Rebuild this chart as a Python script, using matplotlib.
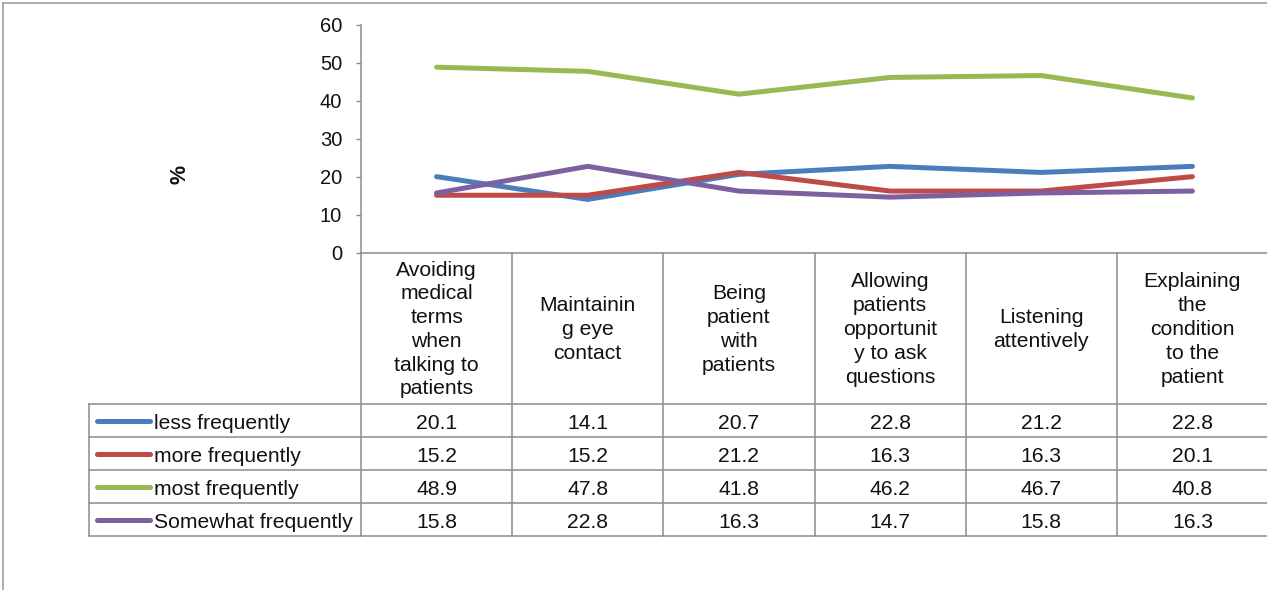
import matplotlib
matplotlib.use("Agg")
import matplotlib.pyplot as plt
from matplotlib.lines import Line2D

plt.rcParams["font.family"] = ["Liberation Sans", "DejaVu Sans"]

categories = ["Avoiding\nmedical\nterms\nwhen\ntalking to\npatients",
              "Maintainin\ng eye\ncontact",
              "Being\npatient\nwith\npatients",
              "Allowing\npatients\nopportunit\ny to ask\nquestions",
              "Listening\nattentively",
              "Explaining\nthe\ncondition\nto the\npatient"]
series = ["less frequently", "more frequently", "most frequently", "Somewhat frequently"]
less_freq = [20.1, 14.1, 20.7, 22.8, 21.2, 22.8]
more_freq = [15.2, 15.2, 21.2, 16.3, 16.3, 20.1]
most_freq = [48.9, 47.8, 41.8, 46.2, 46.7, 40.8]
somewhat_freq = [15.8, 22.8, 16.3, 14.7, 15.8, 16.3]
values = [less_freq, more_freq, most_freq, somewhat_freq]
colors = ["#4A7EBB", "#BE4B48", "#98B954", "#7D60A0"]
yticks = [0, 10, 20, 30, 40, 50, 60]

W, H = 1267, 590
GRID = "#8c8c8c"
TXT = "#111111"
FS = 15.2

fig = plt.figure(figsize=(W / 100, H / 100), dpi=100)

# plot area (pixel layout)
x0, x1, ytop, ybot = 361, 1268, 25, 253
ax = fig.add_axes([x0 / W, 1 - ybot / H, (x1 - x0) / W, (ybot - ytop) / H])
xs = list(range(len(categories)))
for vals, c, name in zip(values, colors, series):
    ax.plot(xs, vals, color=c, lw=3.6, solid_capstyle="round", solid_joinstyle="round", label=name)
ax.set_xlim(-0.5, len(categories) - 0.5)
ax.set_ylim(0, 60)
ax.set_yticks(yticks)
ax.set_xticks([])
ax.tick_params(axis="y", direction="out", length=3.6, width=1, color=GRID,
               labelsize=14.5, labelcolor=TXT, pad=10)
for s in ("top", "right"):
    ax.spines[s].set_visible(False)
for s in ("left", "bottom"):
    ax.spines[s].set_color(GRID)
    ax.spines[s].set_linewidth(1.1)
ax.patch.set_alpha(0)

fig.text(180 / W, 1 - 174 / H, "%", rotation=90, fontsize=15.5, fontweight="bold",
         ha="center", va="center", color=TXT)

# data table under the plot, drawn in pixel coordinates
ov = fig.add_axes([0, 0, 1, 1])
ov.set_xlim(0, W)
ov.set_ylim(H, 0)
ov.axis("off")
ov.patch.set_alpha(0)

cell_w = (x1 - x0) / len(categories)
col_edges = [x0 + i * cell_w for i in range(len(categories) + 1)]
row_edges = [404, 437, 470, 503, 536]
leg_left = 89

def hline(y, xa, xb):
    ov.add_line(Line2D([xa, xb], [y, y], color=GRID, lw=1.1))

def vline(x, ya, yb):
    ov.add_line(Line2D([x, x], [ya, yb], color=GRID, lw=1.1))

for y in row_edges:
    hline(y, leg_left, x1)
for x in col_edges[:-1]:
    vline(x, ybot, row_edges[-1])
vline(leg_left, row_edges[0], row_edges[-1])

# outer chart frame
ov.add_line(Line2D([3, 3], [3, H], color="#a0a0a0", lw=1.2))
ov.add_line(Line2D([3, W], [3, 3], color="#a0a0a0", lw=1.2))

for i, cat in enumerate(categories):
    cx = (col_edges[i] + col_edges[i + 1]) / 2
    ov.text(cx, (ybot + row_edges[0]) / 2 + 1, cat, ha="center", va="center",
            fontsize=FS, color=TXT, linespacing=1.32, multialignment="center")

for r, (name, vals, c) in enumerate(zip(series, values, colors)):
    cy = (row_edges[r] + row_edges[r + 1]) / 2
    ov.add_line(Line2D([97, 150], [cy, cy], color=c, lw=3.6, solid_capstyle="round"))
    ov.text(154, cy + 1, name, ha="left", va="center_baseline", fontsize=FS, color=TXT)
    for i, v in enumerate(vals):
        cx = (col_edges[i] + col_edges[i + 1]) / 2
        ov.text(cx, cy + 1, f"{v:.1f}", ha="center", va="center_baseline", fontsize=FS, color=TXT)

fig.savefig("out.png", dpi=100)
